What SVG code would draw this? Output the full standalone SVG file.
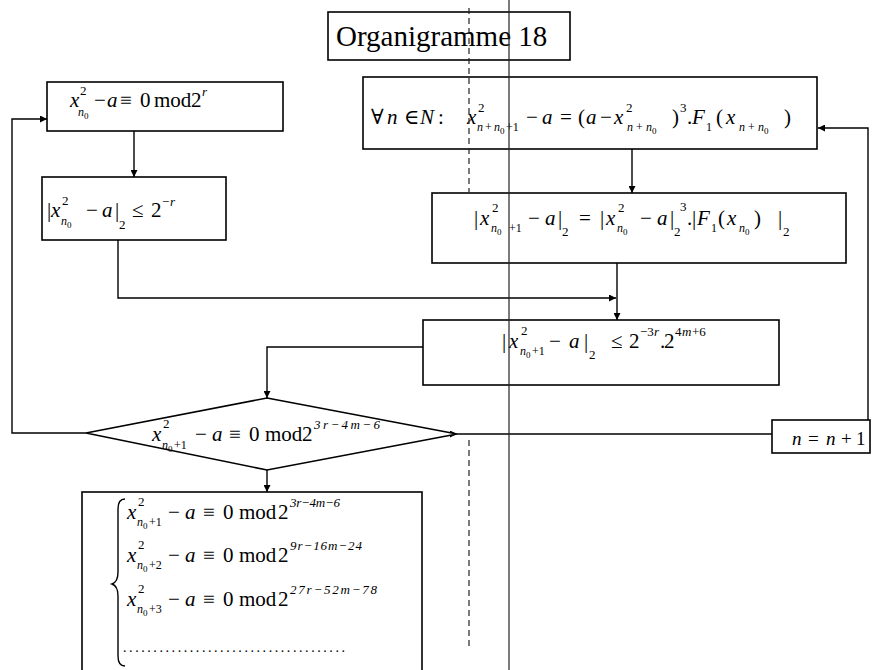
<svg xmlns="http://www.w3.org/2000/svg" width="872" height="670" viewBox="0 0 872 670" font-family="'Liberation Serif', 'Times New Roman', 'DejaVu Serif', serif">
<style>
.box{fill:#fff;stroke:#000;stroke-width:1.6}
.ln{fill:none;stroke:#000;stroke-width:1.4}
.art{fill:none;stroke:#222;stroke-width:1.2}
text{font-family:'Liberation Serif','Times New Roman','DejaVu Serif',serif;font-size:21px;fill:#000}
.i{font-style:italic}
.sp{font-size:13px}
.sb{font-size:12px}
.ss{font-size:9px}
.title{font-size:29px}
</style>
<defs>
<marker id="ah" viewBox="0 0 10 10" refX="10" refY="5" markerWidth="7" markerHeight="7" orient="auto" markerUnits="userSpaceOnUse">
<path d="M0,0 L10,5 L0,10 z" fill="#000"/>
</marker>
</defs>
<rect width="872" height="670" fill="#fff"/>

<g id="connectors">
<path class="ln" d="M134 131 V177" marker-end="url(#ah)"/>
<path class="ln" d="M118 240 V298 H616" marker-end="url(#ah)"/>
<path class="ln" d="M632 149 V193" marker-end="url(#ah)"/>
<path class="ln" d="M617 263 V320" marker-end="url(#ah)"/>
<path class="ln" d="M423 347 H267 V398" marker-end="url(#ah)"/>
<path class="ln" d="M267 470 V492" marker-end="url(#ah)"/>
<path class="ln" d="M86 433 H12 V119 H47" marker-end="url(#ah)"/>
<path class="ln" d="M457 434 H772" marker-start="url(#ah)"/>
<path class="ln" d="M868 420 V128 H818" marker-end="url(#ah)"/>
</g>

<g id="title">
<rect class="box" x="328" y="12" width="242" height="48"/>
<text class="title" x="336" y="46">Organigramme 18</text>
</g>

<g id="box1">
<rect class="box" x="47" y="82" width="236" height="49"/>
<text><tspan x="70" y="107" class="i">x</tspan><tspan x="80" y="95" class="sp">2</tspan><tspan x="78" y="116" class="sb i">n</tspan><tspan x="84" y="119" class="ss">0</tspan><tspan x="94" y="107">−</tspan><tspan x="107" y="107" class="i">a</tspan><tspan x="120" y="107">≡</tspan><tspan x="140" y="107">0</tspan><tspan x="154" y="107">mod</tspan><tspan x="191" y="107">2</tspan><tspan x="202" y="96" class="sp i">r</tspan></text>
</g>

<g id="box2">
<rect class="box" x="42" y="177" width="184" height="63"/>
<text><tspan x="47" y="217">|</tspan><tspan x="51" y="217" class="i">x</tspan><tspan x="62" y="205" class="sp">2</tspan><tspan x="61" y="225" class="sb i">n</tspan><tspan x="67" y="228" class="ss">0</tspan><tspan x="86" y="217">−</tspan><tspan x="102" y="217" class="i">a</tspan><tspan x="115" y="217">|</tspan><tspan x="119" y="229" class="sp">2</tspan><tspan x="132" y="217">≤</tspan><tspan x="151" y="217">2</tspan><tspan x="162" y="206" class="sp">−</tspan><tspan x="170" y="206" class="sp i">r</tspan></text>
</g>

<g id="box3">
<rect class="box" x="363" y="77" width="454" height="72"/>
<text><tspan x="371" y="124">∀</tspan><tspan x="387" y="124" class="i">n</tspan><tspan x="404" y="124">∈</tspan><tspan x="420" y="124" class="i">N</tspan><tspan x="438" y="124">:</tspan><tspan x="467" y="124" class="i">x</tspan><tspan x="478" y="112" class="sp">2</tspan><tspan x="477" y="131" class="sb i">n</tspan><tspan x="485" y="131" class="sb">+</tspan><tspan x="494" y="131" class="sb i">n</tspan><tspan x="500" y="134" class="ss">0</tspan><tspan x="506" y="131" class="sb">+1</tspan><tspan x="526" y="124">−</tspan><tspan x="542" y="124" class="i">a</tspan><tspan x="560" y="124">=</tspan><tspan x="578" y="124">(</tspan><tspan x="586" y="124" class="i">a</tspan><tspan x="600" y="124">−</tspan><tspan x="614" y="124" class="i">x</tspan><tspan x="626" y="112" class="sp">2</tspan><tspan x="627" y="131" class="sb i">n</tspan><tspan x="636" y="131" class="sb">+</tspan><tspan x="646" y="131" class="sb i">n</tspan><tspan x="652" y="134" class="ss">0</tspan><tspan x="672" y="124">)</tspan><tspan x="680" y="112" class="sp">3</tspan><tspan x="687" y="124">.</tspan><tspan x="692" y="124" class="i">F</tspan><tspan x="706" y="131" class="sb">1</tspan><tspan x="716" y="124">(</tspan><tspan x="726" y="124" class="i">x</tspan><tspan x="739" y="131" class="sb i">n</tspan><tspan x="748" y="131" class="sb">+</tspan><tspan x="758" y="131" class="sb i">n</tspan><tspan x="764" y="134" class="ss">0</tspan><tspan x="784" y="124">)</tspan></text>
</g>

<g id="box4">
<rect class="box" x="432" y="193" width="414" height="70"/>
<text><tspan x="474" y="225">|</tspan><tspan x="480" y="225" class="i">x</tspan><tspan x="492" y="212" class="sp">2</tspan><tspan x="491" y="232" class="sb i">n</tspan><tspan x="497" y="235" class="ss">0</tspan><tspan x="509" y="232" class="sb">+1</tspan><tspan x="528" y="225">−</tspan><tspan x="545" y="225" class="i">a</tspan><tspan x="558" y="225">|</tspan><tspan x="562" y="236" class="sp">2</tspan><tspan x="579" y="225">=</tspan><tspan x="600" y="225">|</tspan><tspan x="606" y="225" class="i">x</tspan><tspan x="618" y="212" class="sp">2</tspan><tspan x="617" y="232" class="sb i">n</tspan><tspan x="623" y="235" class="ss">0</tspan><tspan x="640" y="225">−</tspan><tspan x="657" y="225" class="i">a</tspan><tspan x="670" y="225">|</tspan><tspan x="674" y="236" class="sp">2</tspan><tspan x="680" y="211" class="sp">3</tspan><tspan x="687" y="225">.</tspan><tspan x="692" y="225">|</tspan><tspan x="697" y="225" class="i">F</tspan><tspan x="711" y="232" class="sb">1</tspan><tspan x="718" y="225">(</tspan><tspan x="727" y="225" class="i">x</tspan><tspan x="739" y="232" class="sb i">n</tspan><tspan x="745" y="235" class="ss">0</tspan><tspan x="754" y="225">)</tspan><tspan x="778" y="225">|</tspan><tspan x="783" y="236" class="sp">2</tspan></text>
</g>

<g id="box5">
<rect class="box" x="423" y="320" width="356" height="65"/>
<text><tspan x="502" y="348">|</tspan><tspan x="509" y="348" class="i">x</tspan><tspan x="521" y="335" class="sp">2</tspan><tspan x="520" y="355" class="sb i">n</tspan><tspan x="526" y="358" class="ss">0</tspan><tspan x="532" y="355" class="sb">+1</tspan><tspan x="549" y="348">−</tspan><tspan x="569" y="348" class="i">a</tspan><tspan x="584" y="348">|</tspan><tspan x="589" y="359" class="sp">2</tspan><tspan x="611" y="348">≤</tspan><tspan x="629" y="348">2</tspan><tspan x="640" y="336" class="sp">−3</tspan><tspan x="654" y="336" class="sp i">r</tspan><tspan x="660" y="348">.</tspan><tspan x="664" y="348">2</tspan><tspan x="675" y="336" class="sp">4</tspan><tspan x="682" y="336" class="sp i">m</tspan><tspan x="692" y="336" class="sp">+6</tspan></text>
</g>

<g id="diamond">
<path class="box" d="M267 398 L457 434 L267 470 L86 433 Z"/>
<text><tspan x="152" y="441" class="i">x</tspan><tspan x="163" y="428" class="sp">2</tspan><tspan x="162" y="449" class="sb i">n</tspan><tspan x="168" y="452" class="ss">0</tspan><tspan x="174" y="449" class="sb">+1</tspan><tspan x="195" y="441">−</tspan><tspan x="212" y="441" class="i">a</tspan><tspan x="229" y="441">≡</tspan><tspan x="249" y="441">0</tspan><tspan x="265" y="441">mod</tspan><tspan x="302" y="441">2</tspan></text>
<text class="sp i" x="314" y="429" textLength="66" lengthAdjust="spacing">3r−4m−6</text>
</g>

<g id="incr">
<rect class="box" x="772" y="420" width="98" height="33"/>
<text style="font-size:19px"><tspan x="792" y="445" class="i">n</tspan><tspan x="808" y="445">=</tspan><tspan x="826" y="445" class="i">n</tspan><tspan x="841" y="445">+</tspan><tspan x="856" y="445">1</tspan></text>
</g>

<g id="box6">
<rect class="box" x="82" y="492" width="340" height="190"/>
<path class="ln" d="M125 499 Q118 499 118 509 L118 572 Q118 582 112 584 Q118 586 118 596 L118 656 Q118 666 125 666"/>
<text><tspan x="127" y="519" class="i">x</tspan><tspan x="138" y="506" class="sp">2</tspan><tspan x="137" y="526" class="sb i">n</tspan><tspan x="143" y="529" class="ss">0</tspan><tspan x="149" y="526" class="sb">+1</tspan><tspan x="168" y="519">−</tspan><tspan x="185" y="519" class="i">a</tspan><tspan x="203" y="519">≡</tspan><tspan x="223" y="519">0</tspan><tspan x="239" y="519">mod</tspan><tspan x="278" y="519">2</tspan></text>
<text class="sp i" x="290" y="507" textLength="50" lengthAdjust="spacing">3r−4m−6</text>
<text><tspan x="127" y="562" class="i">x</tspan><tspan x="138" y="549" class="sp">2</tspan><tspan x="137" y="569" class="sb i">n</tspan><tspan x="143" y="572" class="ss">0</tspan><tspan x="149" y="569" class="sb">+2</tspan><tspan x="168" y="562">−</tspan><tspan x="185" y="562" class="i">a</tspan><tspan x="203" y="562">≡</tspan><tspan x="223" y="562">0</tspan><tspan x="239" y="562">mod</tspan><tspan x="278" y="562">2</tspan></text>
<text class="sp i" x="290" y="550" textLength="72" lengthAdjust="spacing">9r−16m−24</text>
<text><tspan x="127" y="606" class="i">x</tspan><tspan x="138" y="593" class="sp">2</tspan><tspan x="137" y="613" class="sb i">n</tspan><tspan x="143" y="616" class="ss">0</tspan><tspan x="149" y="613" class="sb">+3</tspan><tspan x="168" y="606">−</tspan><tspan x="185" y="606" class="i">a</tspan><tspan x="203" y="606">≡</tspan><tspan x="223" y="606">0</tspan><tspan x="239" y="606">mod</tspan><tspan x="278" y="606">2</tspan></text>
<text class="sp i" x="290" y="594" textLength="87" lengthAdjust="spacing">27r−52m−78</text>
<text x="123" y="652" style="font-size:14px" textLength="222" lengthAdjust="spacing">.....................................</text>
</g>

<g id="scan-lines">
<path class="art" d="M509 0 V670"/>
<path class="art" d="M469 8 V192 M469 440 V650" stroke-dasharray="6 4"/>
</g>
</svg>
